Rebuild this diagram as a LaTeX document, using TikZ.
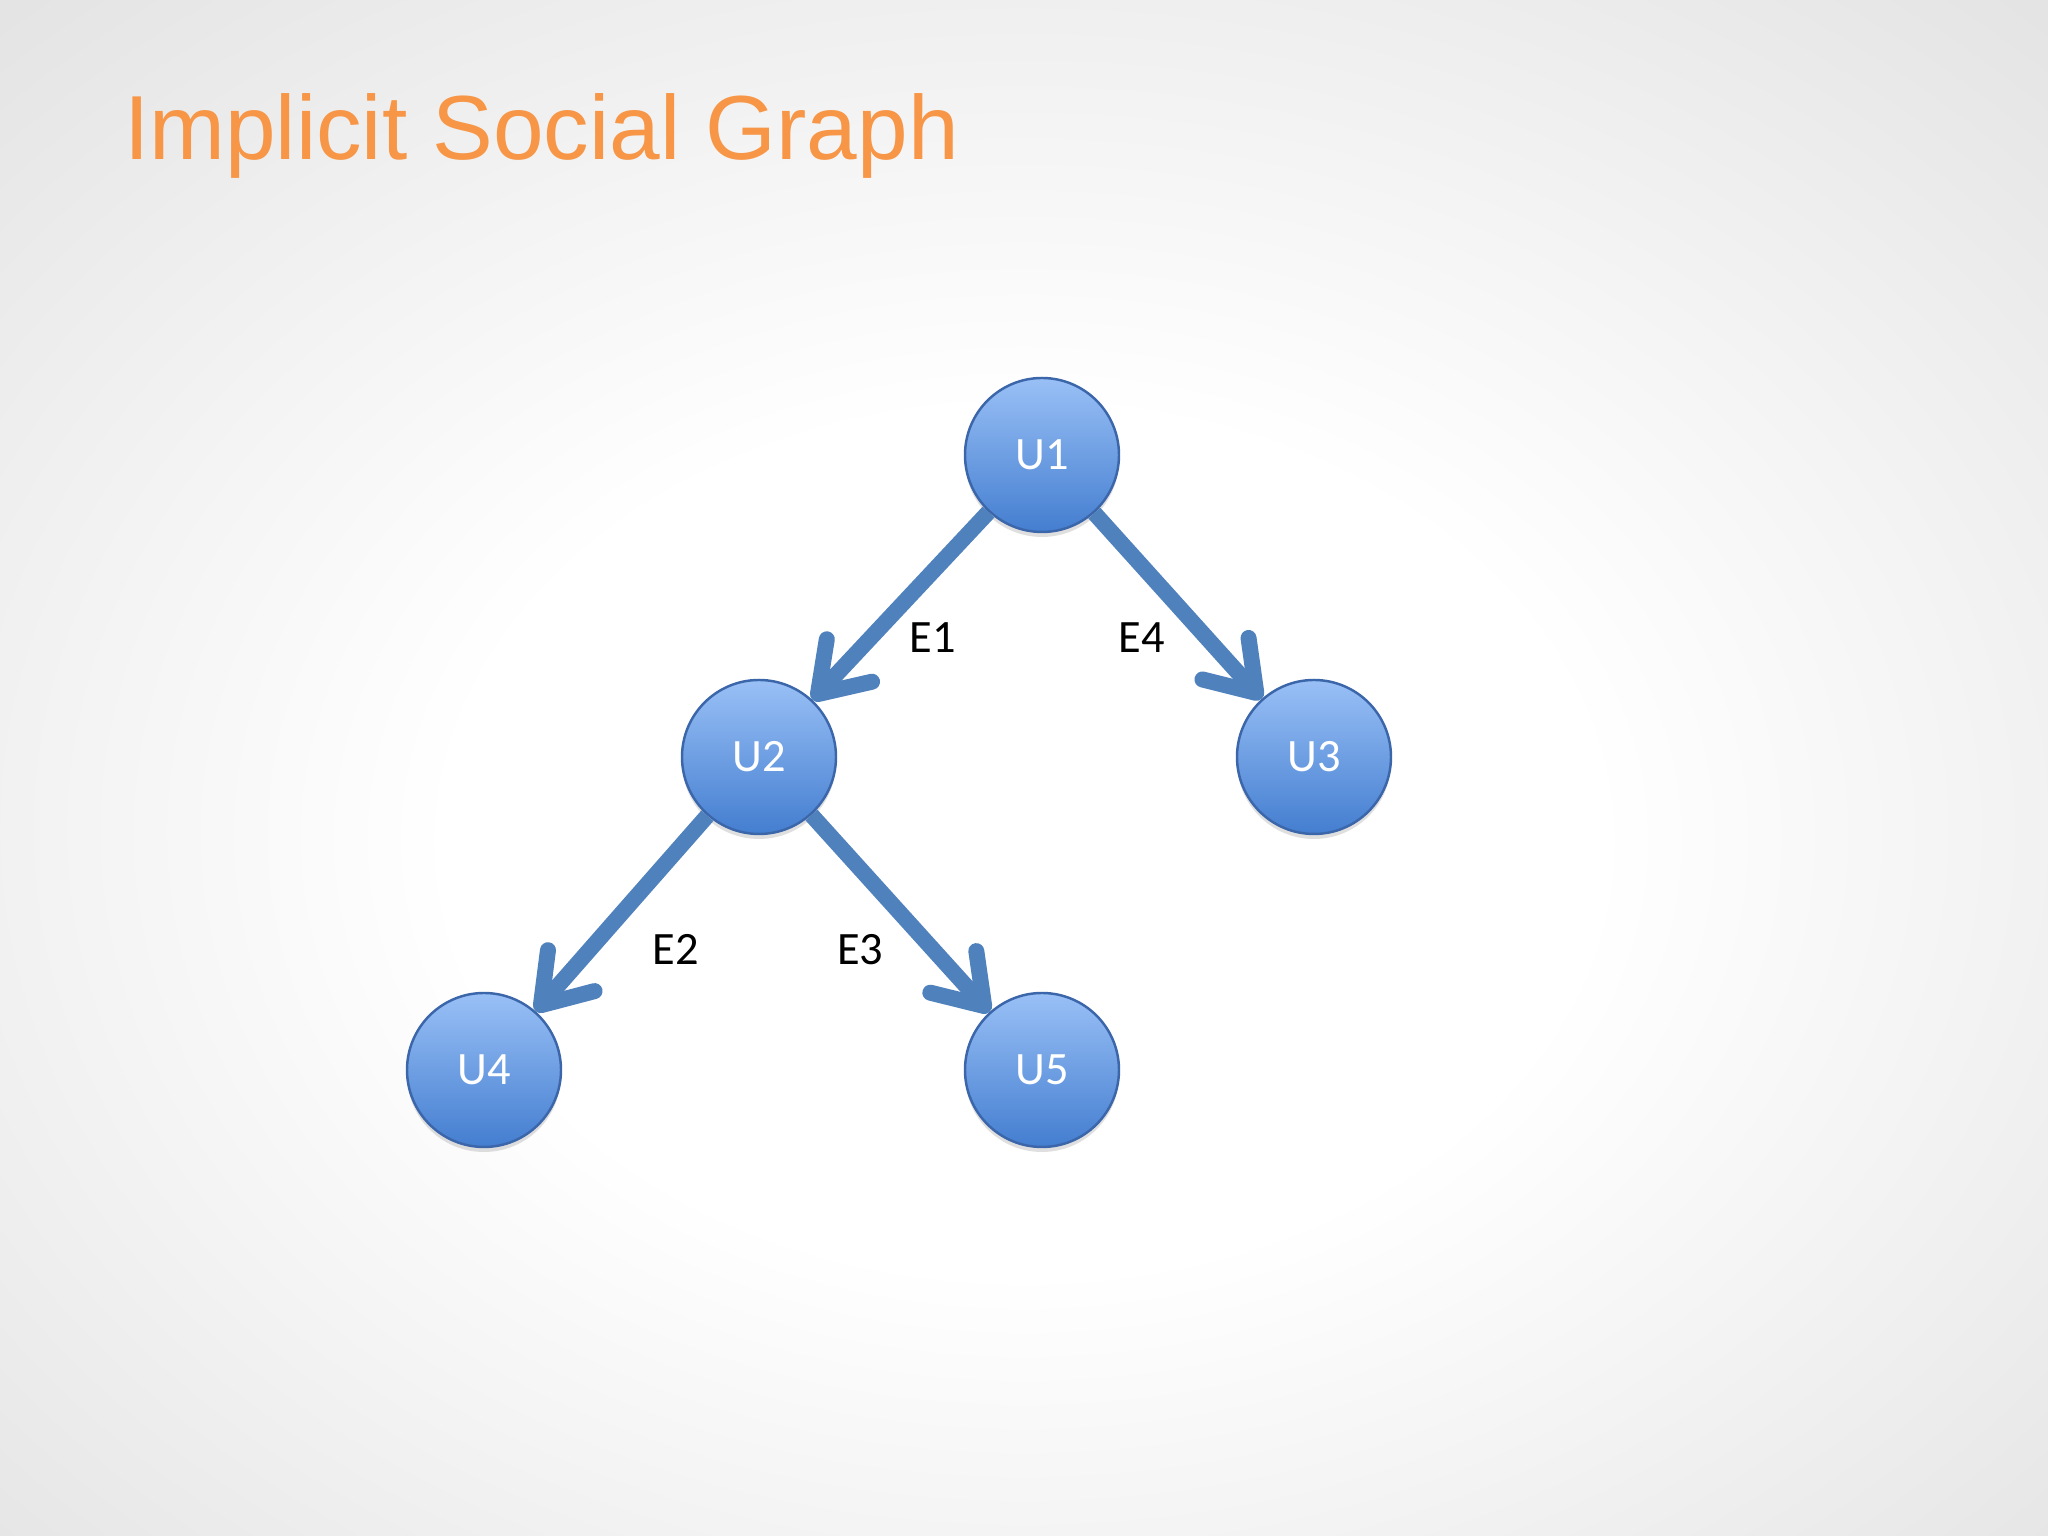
\documentclass[tikz,border=0pt]{standalone}
\usepackage{fontspec}
\usepackage{xcolor}
\usepackage{tikz}
\usetikzlibrary{positioning, arrows.meta, shadows}
\newfontfamily\titlefont{Liberation Sans}
\newfontfamily\labelfont{Carlito}
\definecolor{titleorange}{RGB}{247,150,70}
\definecolor{nodetop}{RGB}{153,192,246}
\definecolor{nodebottom}{RGB}{68,126,208}
\definecolor{nodeborder}{RGB}{60,102,170}
\definecolor{edgeblue}{RGB}{79,129,189}
\definecolor{bggray}{RGB}{228,228,228}
\definecolor{bgdark}{RGB}{214,214,214}
\pgfdeclareradialshading{slidebg}{\pgfpoint{0bp}{-3bp}}{color(0bp)=(white); color(14bp)=(white); color(36bp)=(bggray); color(60bp)=(bgdark); color(72bp)=(bgdark)}

\begin{document}
\begin{tikzpicture}[
            user/.style={circle, draw=nodeborder, line width=0.7pt, top color=nodetop, bottom color=nodebottom, minimum size=1.54cm, inner sep=0pt, text=white, font=\labelfont\fontsize{13.2}{15}\selectfont, drop shadow={shadow xshift=0pt, shadow yshift=-0.05cm, opacity=0.25}},
            link/.style={line width=0.16cm, edgeblue, -{Straight Barb[length=0.46cm, width=0.62cm, round]}},
            elabel/.style={font=\labelfont\fontsize{13.2}{15}\selectfont, text=black, inner sep=0pt},
            on grid
        ]
            \useasboundingbox (0,0) rectangle (20.48,15.36);
            \shade[shading=slidebg] (0,0) rectangle (20.48,15.36);

            \node (title) [anchor=base west, inner sep=0pt, text=titleorange, font=\titlefont\fontsize{25.9}{30}\selectfont] at (1.235,13.76) {Implicit Social Graph};

            \node (u1) [user] at (10.42,10.81) {U1};
            \node (u2) [user, below left=3.02cm and 2.83cm of u1] {U2};
            \node (u3) [user, below right=3.02cm and 2.72cm of u1] {U3};
            \node (u4) [user, below left=3.13cm and 2.75cm of u2] {U4};
            \node (u5) [user, below right=3.13cm and 2.83cm of u2] {U5};

            \draw[link] (u1) -- node[elabel, pos=0.67, xshift=0.62cm] (e1) {E1} (u2);
            \draw[link] (u2) -- node[elabel, pos=0.685, xshift=0.86cm] (e2) {E2} (u4);
            \draw[link] (u2) -- node[elabel, pos=0.683, xshift=-0.73cm] (e3) {E3} (u5);
            \draw[link] (u1) -- node[elabel, pos=0.67, xshift=-0.65cm] (e4) {E4} (u3);
        \end{tikzpicture}
\end{document}
